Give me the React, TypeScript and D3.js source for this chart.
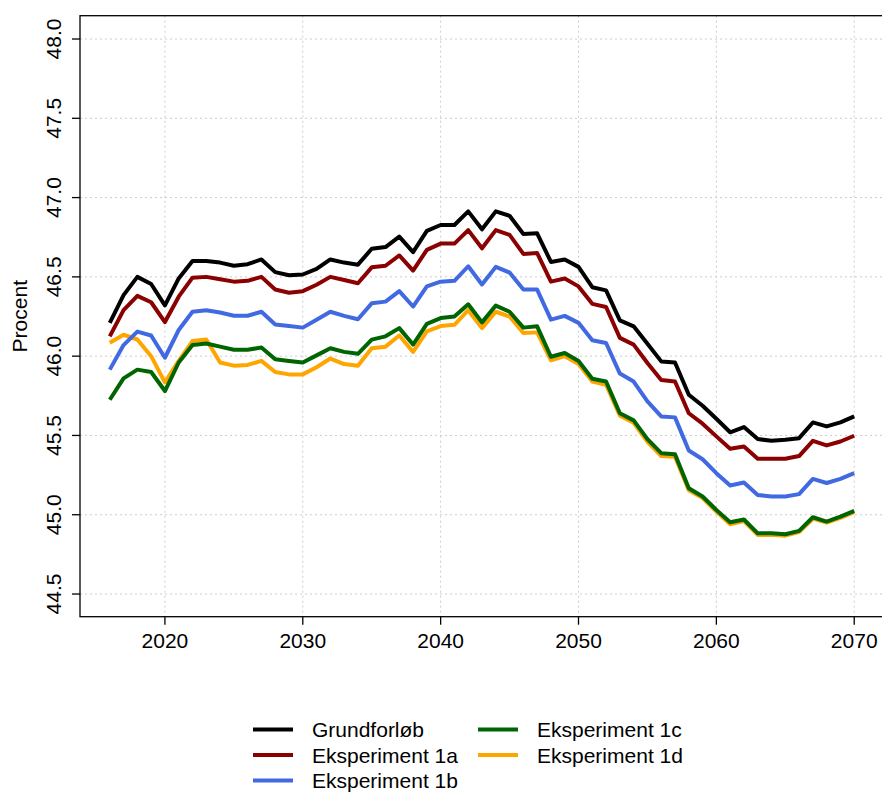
import React from 'react';
import * as d3 from 'd3';

const years = d3.range(2016, 2071);

// Grundforløb
const grund = [
  46.21, 46.385, 46.5, 46.455, 46.32, 46.49, 46.6, 46.6, 46.59, 46.57,
  46.58, 46.61, 46.53, 46.51, 46.515, 46.55, 46.61, 46.59, 46.577, 46.677,
  46.688, 46.754, 46.656, 46.79, 46.827, 46.827, 46.913, 46.8, 46.913, 46.885,
  46.77, 46.775, 46.594, 46.61, 46.563, 46.435, 46.415, 46.226, 46.188, 46.079,
  45.967, 45.96, 45.757, 45.687, 45.605, 45.52, 45.553, 45.477, 45.466, 45.473,
  45.483, 45.582, 45.557, 45.582, 45.62,
];
const eks1a = [
  46.125, 46.29, 46.38, 46.34, 46.215, 46.375, 46.495, 46.5, 46.485, 46.47,
  46.475, 46.5, 46.42, 46.4, 46.41, 46.45, 46.5, 46.48, 46.46, 46.56,
  46.57, 46.635, 46.54, 46.67, 46.71, 46.71, 46.795, 46.68, 46.795, 46.765,
  46.645, 46.65, 46.47, 46.49, 46.44, 46.33, 46.31, 46.115, 46.073, 45.957,
  45.85, 45.84, 45.64, 45.574, 45.494, 45.416, 45.43, 45.353, 45.353, 45.353,
  45.37, 45.466, 45.437, 45.462, 45.498,
];
const eks1b = [
  45.915, 46.07, 46.155, 46.13, 45.99, 46.165, 46.28, 46.29, 46.275, 46.255,
  46.255, 46.28, 46.2, 46.19, 46.18, 46.23, 46.28, 46.254, 46.233, 46.333,
  46.344, 46.41, 46.313, 46.44, 46.47, 46.475, 46.567, 46.452, 46.563, 46.527,
  46.42, 46.42, 46.23, 46.254, 46.21, 46.1, 46.083, 45.89, 45.84, 45.715,
  45.62, 45.614, 45.405, 45.35, 45.262, 45.184, 45.203, 45.125, 45.115, 45.115,
  45.13, 45.226, 45.2, 45.226, 45.262,
];
const eks1c = [
  45.725, 45.86, 45.915, 45.9, 45.78, 45.96, 46.07, 46.08, 46.06, 46.04,
  46.04, 46.055, 45.98, 45.97, 45.96, 46.005, 46.05, 46.027, 46.015, 46.104,
  46.125, 46.177, 46.073, 46.204, 46.24, 46.25, 46.327, 46.213, 46.319, 46.28,
  46.18, 46.188, 45.996, 46.02, 45.97, 45.858, 45.84, 45.64, 45.595, 45.477,
  45.388, 45.382, 45.167, 45.115, 45.03, 44.953, 44.97, 44.883, 44.883, 44.877,
  44.898, 44.984, 44.957, 44.988, 45.024,
];
const eks1d = [
  46.085, 46.135, 46.105, 46.0, 45.835, 45.97, 46.095, 46.105, 45.96, 45.94,
  45.945, 45.97, 45.9, 45.885, 45.885, 45.93, 45.985, 45.95, 45.94, 46.05,
  46.06, 46.13, 46.027, 46.156, 46.19, 46.198, 46.29, 46.177, 46.28, 46.25,
  46.146, 46.15, 45.973, 46.0, 45.95, 45.84, 45.82, 45.625, 45.58, 45.46,
  45.37, 45.365, 45.155, 45.105, 45.02, 44.94, 44.96, 44.873, 44.873, 44.868,
  44.89, 44.975, 44.95, 44.98, 45.017,
];

const seriesNames = ['Grundforløb', 'Eksperiment 1a', 'Eksperiment 1b', 'Eksperiment 1c', 'Eksperiment 1d'];
const seriesColors = ['#000000', '#8B0000', '#4169E1', '#006400', '#FFA500'];
const seriesValues = [grund, eks1a, eks1b, eks1c, eks1d];
// tegnerækkefølge: 1d først, grøn øverst
const drawOrder = [4, 0, 1, 2, 3];

const xTicks = [2020, 2030, 2040, 2050, 2060, 2070];
const yTicks = [44.5, 45.0, 45.5, 46.0, 46.5, 47.0, 47.5, 48.0];

const W = 882;
const H = 794;
const font = 'Liberation Sans, Arial, sans-serif';

export default function App() {
  // R-agtig akse: 4% udvidelse på hver side
  const x = d3.scaleLinear().domain([2013.84, 2072.16]).range([80, 884]);
  const y = d3.scaleLinear().domain([44.357, 48.147]).range([616.7, 15.7]);

  const line = d3.line<number>()
    .x((_, i) => x(years[i]))
    .y(d => y(d));

  const left = 80, right = 884, top = 15.7, bottom = 616.7;

  return (
    <svg width={W} height={H} style={{ position: 'absolute', left: 0, top: 0, background: '#fff' }}>
      {/* gitter */}
      <g stroke="#cccccc" strokeWidth={1} strokeDasharray="2 3">
        {xTicks.map(t => (
          <line key={'gx' + t} x1={x(t)} x2={x(t)} y1={top} y2={bottom} />
        ))}
        {yTicks.map(t => (
          <line key={'gy' + t} x1={left} x2={right} y1={y(t)} y2={y(t)} />
        ))}
      </g>

      {/* linjer */}
      <g fill="none" strokeWidth={4} strokeLinejoin="round">
        {drawOrder.map(i => (
          <path key={seriesNames[i]} d={line(seriesValues[i]) ?? ''} stroke={seriesColors[i]} />
        ))}
      </g>

      {/* boks og akser */}
      <rect x={left} y={top} width={right - left} height={bottom - top} fill="none" stroke="#000" strokeWidth={1.3} />
      <g stroke="#000" strokeWidth={1.3}>
        {xTicks.map(t => (
          <line key={'tx' + t} x1={x(t)} x2={x(t)} y1={bottom} y2={bottom + 8} />
        ))}
        {yTicks.map(t => (
          <line key={'ty' + t} x1={left - 8} x2={left} y1={y(t)} y2={y(t)} />
        ))}
      </g>
      <g fontFamily={font} fontSize={21} fill="#000">
        {xTicks.map(t => (
          <text key={'lx' + t} x={x(t)} y={648} textAnchor="middle">{t}</text>
        ))}
        {yTicks.map(t => (
          <text key={'ly' + t} transform={`translate(61,${y(t)}) rotate(-90)`} textAnchor="middle">
            {d3.format('.1f')(t)}
          </text>
        ))}
        <text transform={`translate(27,${(top + bottom) / 2}) rotate(-90)`} textAnchor="middle">Procent</text>
      </g>

      {/* legende */}
      <g fontFamily={font} fontSize={21}>
        {seriesNames.map((name, i) => {
          const col = i < 3 ? 0 : 1;
          const row = i < 3 ? i : i - 3;
          const lx = col === 0 ? 253 : 478;
          const ly = 729.5 + row * 25.5;
          return (
            <g key={'leg' + name}>
              <line x1={lx} x2={lx + 40} y1={ly} y2={ly} stroke={seriesColors[i]} strokeWidth={4} />
              <text x={lx + 59} y={ly + 7.5}>{name}</text>
            </g>
          );
        })}
      </g>
    </svg>
  );
}
